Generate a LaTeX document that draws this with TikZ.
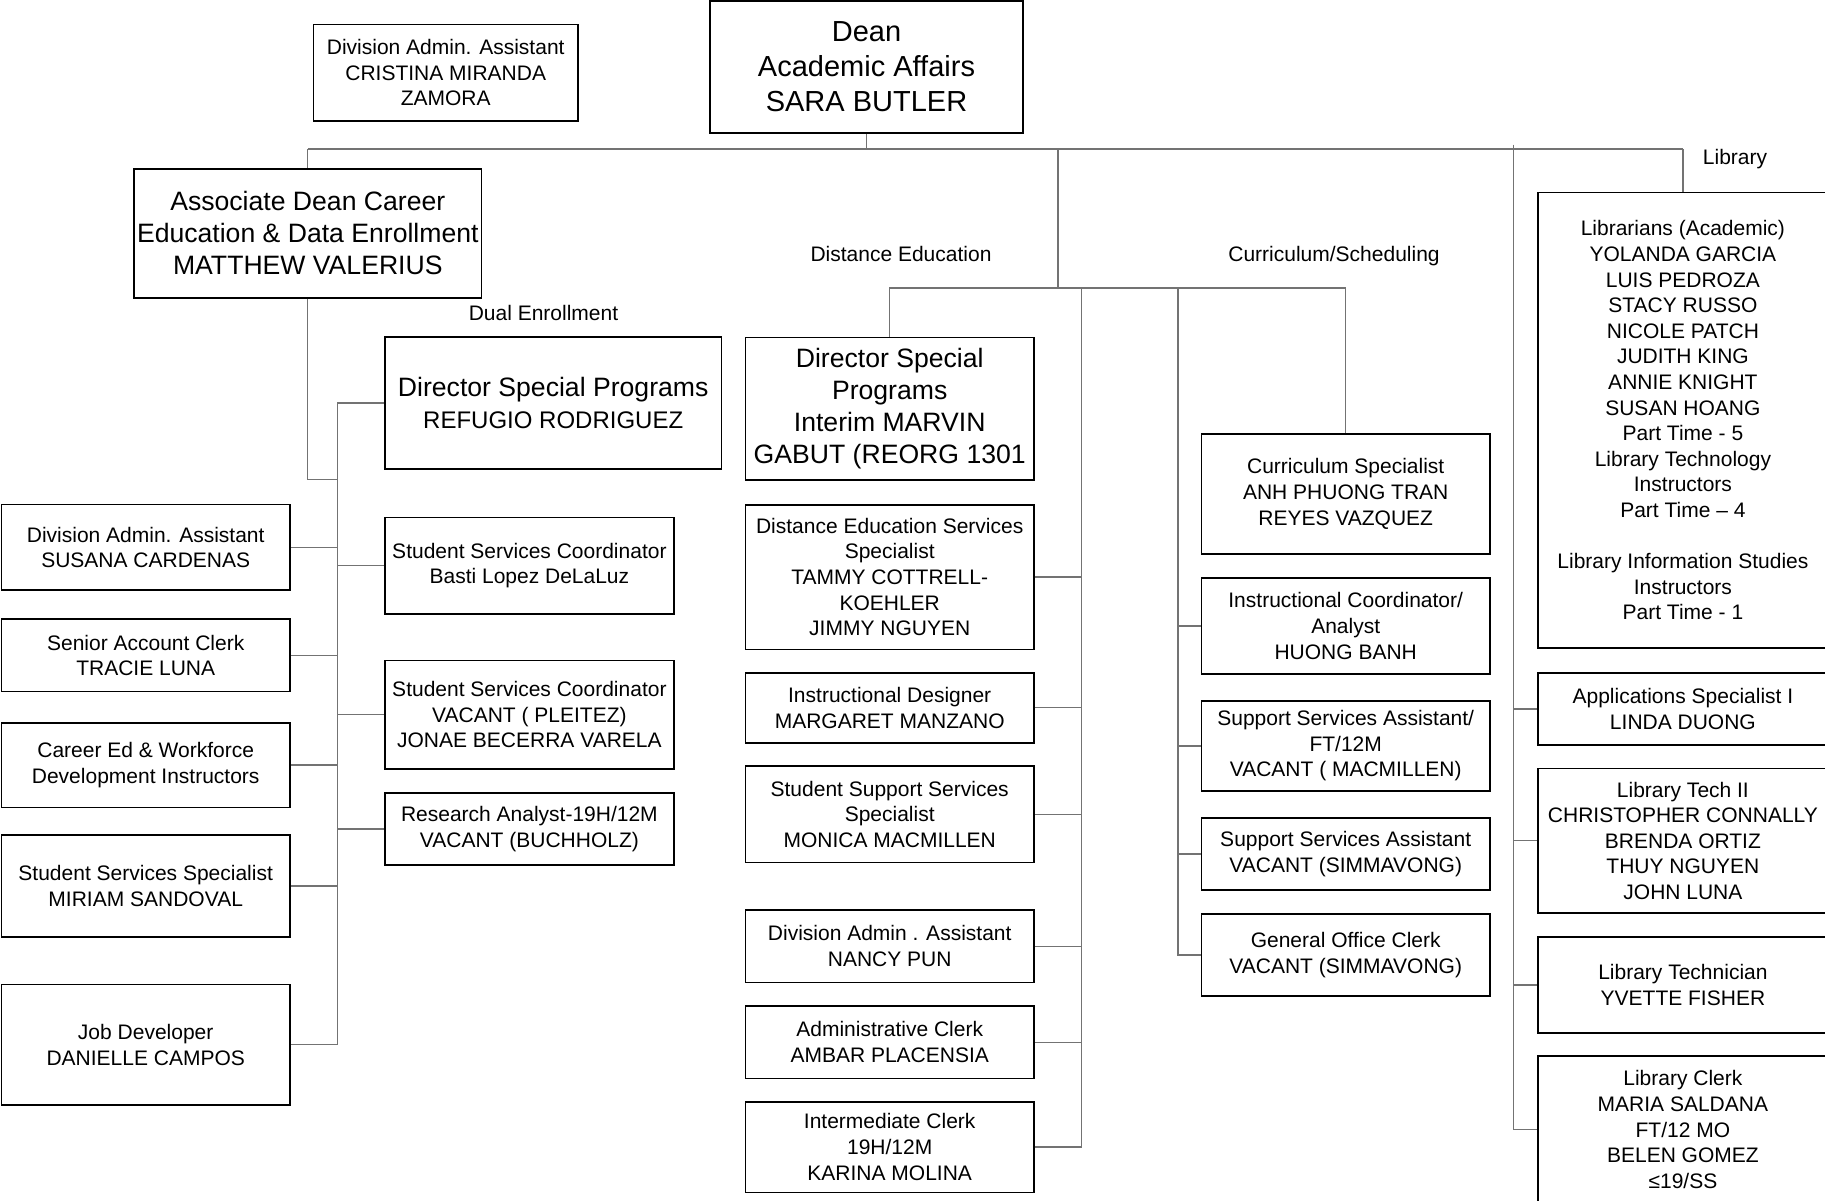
\documentclass[tikz,border=0pt]{standalone}
\usepackage{fontspec}
\setmainfont{Liberation Sans}
\begin{document}
\begin{tikzpicture}[x=1pt,y=-1pt,
  box/.style={draw=black, line width=1.6pt, fill=white, inner sep=1pt, align=center, font=\fontsize{21}{25.6}\selectfont},
  big/.style={font=\fontsize{26.6}{32}\selectfont},
  colL/.style={box, minimum width=288.6pt},
  colR/.style={box, minimum width=289.2pt},
  colD/.style={box, minimum width=288.6pt},
  colC/.style={box, minimum width=288.3pt},
  colLib/.style={box, minimum width=290.3pt},
  conn/.style={draw=black!55, line width=1.2pt},
  lbl/.style={font=\fontsize{21}{25.6}\selectfont, inner sep=0pt, anchor=base}]
\useasboundingbox (0,0) rectangle (1825,1200);
\clip (0,0) rectangle (1825,1200);
\fill[white] (0,0) rectangle (1825,1200);

% connectors (drawn first, boxes on top)
\coordinate (barL) at (307.8,149);
\coordinate (barR) at (1682.9,149);
\coordinate (lt) at (337.5,479.3);
\coordinate (brTop) at (1057.9,149);
\coordinate (brBot) at (1057.9,288);
\coordinate (det) at (1081.6,288);
\coordinate (cut) at (1178,288);
\coordinate (libt) at (1513.7,144.6);

% top boxes
\node[box, minimum width=264.6pt, minimum height=96.7pt] (cristina) at (445.7,72.7) {Division Admin. Assistant\\CRISTINA MIRANDA\\ZAMORA};
\node[box, font=\fontsize{29}{35}\selectfont, minimum width=313pt, minimum height=132pt] (dean) at (866.5,67) {Dean\\Academic Affairs\\SARA BUTLER};
\node[box, big, minimum width=347.6pt, minimum height=129pt] (assoc) at (307.8,233.2) {Associate Dean Career\\Education \& Data Enrollment\\MATTHEW VALERIUS};

% dual enrollment side
\node[box, font=\fontsize{26.6}{32.6}\selectfont, minimum width=336.8pt, minimum height=132.3pt] (dirrr) at (553.2,402.9) {Director Special Programs\\{\fontsize{24}{32.6}\selectfont REFUGIO RODRIGUEZ}};
\node[colR, minimum height=96.7pt] (basti) at (529.4,565.7) {Student Services Coordinator\\Basti Lopez DeLaLuz};
\node[colR, minimum height=108.7pt] (vacant) at (529.4,714.7) {Student Services Coordinator\\VACANT ( PLEITEZ)\\JONAE BECERRA VARELA};
\node[colR, minimum height=72.3pt] (research) at (529.4,828.9) {Research Analyst-19H/12M\\VACANT (BUCHHOLZ)};

% left column
\node[colL, minimum height=85.3pt] (susana) at (145.7,547.3) {Division Admin. Assistant\\SUSANA CARDENAS};
\node[colL, minimum height=72.7pt] (senior) at (145.7,655.3) {Senior Account Clerk\\TRACIE LUNA};
\node[colL, minimum height=84.6pt] (career) at (145.7,765) {Career Ed \& Workforce\\Development Instructors};
\node[colL, minimum height=102pt] (sss) at (145.7,886) {Student Services Specialist\\MIRIAM SANDOVAL};
\node[colL, minimum height=120.3pt] (job) at (145.7,1044.8) {Job Developer\\DANIELLE CAMPOS};

% distance education column
\node[colD, big, minimum height=142.7pt] (marvin) at (889.7,408.7) {Director Special\\Programs\\Interim MARVIN\\GABUT (REORG 1301};
\node[colD, minimum height=144.6pt] (des) at (889.7,577) {Distance Education Services\\Specialist\\TAMMY COTTRELL-\\KOEHLER\\JIMMY NGUYEN};
\node[colD, minimum height=70pt] (designer) at (889.7,707.7) {Instructional Designer\\MARGARET MANZANO};
\node[colD, minimum height=96.3pt] (ssss) at (889.7,814.2) {Student Support Services\\Specialist\\MONICA MACMILLEN};
\node[colD, minimum height=72.3pt] (nancy) at (889.7,946.2) {Division Admin . Assistant\\NANCY PUN};
\node[colD, minimum height=72.3pt] (admin) at (889.7,1042.2) {Administrative Clerk\\AMBAR PLACENSIA};
\node[colD, minimum height=90.6pt] (inter) at (889.7,1147) {Intermediate Clerk\\19H/12M\\KARINA MOLINA};

% curriculum column
\node[colC, minimum height=120.3pt] (currspec) at (1345.7,493.9) {Curriculum Specialist\\ANH PHUONG TRAN\\REYES VAZQUEZ};
\node[colC, minimum height=96.3pt] (coord) at (1345.7,625.9) {Instructional Coordinator/\\Analyst\\HUONG BANH};
\node[colC, minimum height=90.3pt] (ssaft) at (1345.7,745.9) {Support Services Assistant/\\FT/12M\\VACANT ( MACMILLEN)};
\node[colC, minimum height=72.3pt] (ssav) at (1345.7,853.9) {Support Services Assistant\\VACANT (SIMMAVONG)};
\node[colC, minimum height=82.3pt] (goc) at (1345.7,954.9) {General Office Clerk\\VACANT (SIMMAVONG)};

% library column
\node[colLib, minimum height=455.5pt] (librarians) at (1682.9,420.3) {Librarians (Academic)\\YOLANDA GARCIA\\LUIS PEDROZA\\STACY RUSSO\\NICOLE PATCH\\JUDITH KING\\ANNIE KNIGHT\\SUSAN HOANG\\Part Time - 5\\Library Technology\\Instructors\\Part Time – 4\\[25.6pt]Library Information Studies\\Instructors\\Part Time - 1};
\node[colLib, minimum height=72.2pt] (apps) at (1682.9,708.9) {Applications Specialist I\\LINDA DUONG};
\node[colLib, minimum height=144.6pt] (ltii) at (1682.9,840.7) {Library Tech II\\CHRISTOPHER CONNALLY\\BRENDA ORTIZ\\THUY NGUYEN\\JOHN LUNA};
\node[colLib, minimum height=96.2pt] (tech) at (1682.9,984.9) {Library Technician\\YVETTE FISHER};
\node[colLib, minimum height=146.8pt] (clerk) at (1682.9,1129.6) {Library Clerk\\MARIA SALDANA\\FT/12 MO\\BELEN GOMEZ\\≤19/SS};

% labels
\node[lbl] (dual) at (543.5,320.5) {Dual Enrollment};
\node[lbl] (dist) at (901,261.6) {Distance Education};
\node[lbl] (curr) at (1334,261.4) {Curriculum/Scheduling};
\node[lbl] (lib) at (1735,164.3) {Library};

% top level connectors
\draw[conn] (dean.south) -- (dean.south |- barL);
\draw[conn] (barL) -- (barR);
\draw[conn] (barL) -- (assoc.north);
\draw[conn] (barR) -- (librarians.north);

% associate dean tree
\draw[conn] (assoc.south) |- (lt);
\draw[conn] (dirrr.west) -| (job.east -| lt) -- (job.east);
\draw[conn] (basti.west) -- (basti.west -| lt);
\draw[conn] (vacant.west) -- (vacant.west -| lt);
\draw[conn] (research.west) -- (research.west -| lt);
\draw[conn] (susana.east) -- (susana.east -| lt);
\draw[conn] (senior.east) -- (senior.east -| lt);
\draw[conn] (career.east) -- (career.east -| lt);
\draw[conn] (sss.east) -- (sss.east -| lt);

% distance education / curriculum branch
\draw[conn] (brTop) -- (brBot);
\draw[conn] (marvin.north) |- (currspec.north |- brBot) -- (currspec.north);
\draw[conn] (det) |- (inter.east);
\draw[conn] (des.east) -- (des.east -| det);
\draw[conn] (designer.east) -- (designer.east -| det);
\draw[conn] (ssss.east) -- (ssss.east -| det);
\draw[conn] (nancy.east) -- (nancy.east -| det);
\draw[conn] (admin.east) -- (admin.east -| det);
\draw[conn] (cut) |- (goc.west);
\draw[conn] (coord.west) -- (coord.west -| cut);
\draw[conn] (ssaft.west) -- (ssaft.west -| cut);
\draw[conn] (ssav.west) -- (ssav.west -| cut);

% library tree
\draw[conn] (libt) |- (clerk.west);
\draw[conn] (apps.west) -- (apps.west -| libt);
\draw[conn] (ltii.west) -- (ltii.west -| libt);
\draw[conn] (tech.west) -- (tech.west -| libt);
\end{tikzpicture}
\end{document}
